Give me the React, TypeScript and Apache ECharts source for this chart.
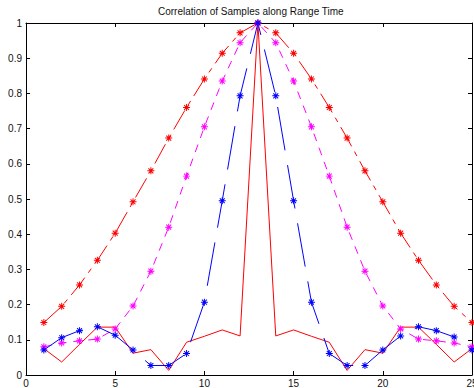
import React, { useEffect, useRef } from 'react';
import * as echarts from 'echarts';

const xs = [1, 2, 3, 4, 5, 6, 7, 8, 9, 10, 11, 12, 13, 14, 15, 16, 17, 18, 19, 20, 21, 22, 23, 24, 25];
const redDashDot = [0.149, 0.195, 0.256, 0.326, 0.403, 0.492, 0.58, 0.673, 0.76, 0.841, 0.914, 0.972, 1.0, 0.972, 0.914, 0.841, 0.76, 0.673, 0.58, 0.492, 0.403, 0.326, 0.256, 0.195, 0.149];
const magentaDashed = [0.08, 0.091, 0.097, 0.102, 0.131, 0.196, 0.295, 0.42, 0.565, 0.705, 0.835, 0.944, 1.0, 0.944, 0.835, 0.705, 0.565, 0.42, 0.295, 0.196, 0.131, 0.102, 0.097, 0.091, 0.08];
const blueDashDot = [0.071, 0.106, 0.126, 0.137, 0.113, 0.071, 0.027, 0.027, 0.061, 0.207, 0.495, 0.793, 1.0, 0.793, 0.495, 0.207, 0.061, 0.027, 0.027, 0.071, 0.111, 0.137, 0.126, 0.108, 0.071];
const redSolid = [0.075, 0.037, 0.087, 0.136, 0.136, 0.062, 0.072, 0.013, 0.093, 0.11, 0.128, 0.111, 1.0, 0.111, 0.128, 0.11, 0.093, 0.013, 0.072, 0.062, 0.136, 0.136, 0.087, 0.037, 0.075];

const title = 'Correlation of Samples along Range Time';

const STAR = 'path://M0,4.3H10V5.7H0Z M4.3,0H5.7V10H4.3Z M1,2L2,1L9,8L8,9Z M8,1L9,2L2,9L1,8Z';
const FONT = 'Liberation Sans, Arial, Helvetica, sans-serif';

function pairs(ys: number[]) {
  return xs.map((x, i) => [x, ys[i]]);
}

export default function App() {
  const ref = useRef<HTMLDivElement>(null);
  useEffect(() => {
    const chart = echarts.init(ref.current!, null, { renderer: 'svg' });
    const axisLine = { show: true, onZero: false, lineStyle: { color: '#000', width: 1 } };
    const axisTick = { show: true, inside: true, length: 4, lineStyle: { color: '#000', width: 1 } };
    const label = { color: '#111', fontSize: 10, fontFamily: FONT };
    chart.setOption({
      animation: false,
      backgroundColor: '#fff',
      title: {
        text: title,
        left: 158,
        top: 6,
        padding: 0,
        textStyle: { fontSize: 10, fontWeight: 'normal', color: '#111', fontFamily: FONT },
      },
      grid: { left: 26, right: 2, top: 23, bottom: 13, show: false, containLabel: false, outerBoundsMode: 'none' },
      xAxis: [
        {
          type: 'value', min: 0, max: 25, interval: 5, position: 'bottom',
          axisLine, axisTick, splitLine: { show: false },
          axisLabel: { ...label, margin: 3 },
        },
        {
          type: 'value', min: 0, max: 25, interval: 5, position: 'top',
          axisLine, axisTick, splitLine: { show: false },
          axisLabel: { show: false },
        },
      ],
      yAxis: [
        {
          type: 'value', min: 0, max: 1, interval: 0.1, position: 'left',
          axisLine, axisTick, splitLine: { show: false },
          axisLabel: {
            ...label, margin: 4,
            formatter: (v: number) => (v === 0 ? '0' : Math.abs(v - 1) < 1e-9 ? '1' : v.toFixed(1)),
          },
        },
        {
          type: 'value', min: 0, max: 1, interval: 0.1, position: 'right',
          axisLine, axisTick, splitLine: { show: false },
          axisLabel: { show: false },
        },
      ],
      series: [
        {
          type: 'line', data: pairs(redSolid), symbol: 'none',
          lineStyle: { color: '#ff0000', width: 1 }, itemStyle: { color: '#ff0000' },
        },
        {
          type: 'line', data: pairs(redDashDot), symbol: STAR, symbolSize: 7,
          lineStyle: { color: '#ff0000', width: 1, type: [22, 6, 5, 6] }, itemStyle: { color: '#ff0000' },
        },
        {
          type: 'line', data: pairs(magentaDashed), symbol: STAR, symbolSize: 7,
          lineStyle: { color: '#ff00ff', width: 1, type: [8, 7] }, itemStyle: { color: '#ff00ff' },
        },
        {
          type: 'line', data: pairs(blueDashDot), symbol: STAR, symbolSize: 7,
          lineStyle: { color: '#0000ff', width: 1, type: [44, 15] }, itemStyle: { color: '#0000ff' },
        },
      ],
    });
    return () => chart.dispose();
  }, []);
  return <div ref={ref} style={{ position: 'absolute', left: 0, top: 0, width: 474, height: 388 }} />;
}
